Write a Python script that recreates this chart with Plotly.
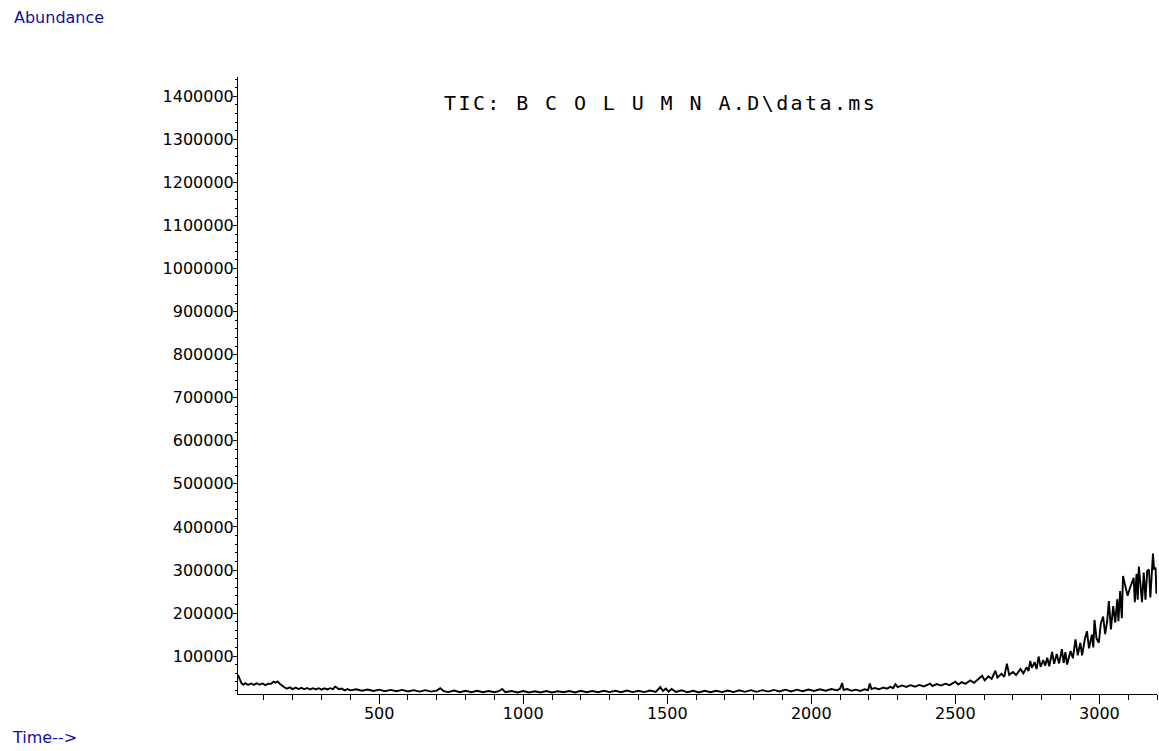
import plotly.graph_objects as go

# Total ion chromatogram, read in three stretches of retention time
time_early = [10, 13, 17, 22, 28, 35, 45, 55, 65, 75, 85, 95, 105, 115, 125, 133, 140, 148,
              156, 164, 172, 180, 190, 200, 210, 220, 230, 240, 250, 260, 270, 280, 290, 300,
              310, 320, 330, 340, 347, 353, 360, 370, 380, 390, 400]
abund_early = [56000, 50000, 43000, 37000, 33500, 37000, 33000, 36500, 33000, 37000, 33500,
               36500, 32500, 36000, 35500, 40500, 38500, 41000, 35000, 30500, 27000, 24500,
               27500, 23500, 27000, 23500, 26500, 23000, 26000, 22500, 25500, 22500, 25500,
               22000, 25000, 22500, 25500, 23500, 29000, 27000, 23000, 24500, 20500, 23500,
               20500]

time_mid = [420, 440, 460, 480, 500, 520, 540, 560, 580, 600, 620, 640, 660, 680, 700, 712,
            724, 740, 760, 780, 800, 820, 840, 860, 880, 900, 915, 927, 938, 960, 980, 1000,
            1020, 1040, 1060, 1080, 1100, 1120, 1140, 1160, 1180, 1200, 1220, 1240, 1260,
            1280, 1300, 1320, 1340, 1360, 1380, 1400, 1420, 1440, 1460, 1476, 1485, 1495,
            1505, 1515, 1530, 1550, 1570, 1590, 1610, 1630, 1650, 1670, 1690, 1710, 1730,
            1750, 1770, 1790, 1810, 1830, 1850, 1870, 1890, 1910, 1930, 1950, 1970, 1990,
            2010, 2030, 2050, 2070, 2090]
abund_mid = [23000, 19500, 22500, 19000, 22000, 18500, 21500, 18500, 21500, 18000, 21000,
             17500, 21000, 17500, 20000, 25500, 18500, 16500, 20000, 16000, 19500, 16000,
             19500, 16000, 19000, 16000, 18500, 23500, 16000, 19000, 15500, 19000, 15500,
             18500, 15500, 19000, 15500, 18500, 16000, 19000, 15500, 19500, 16000, 19000,
             16000, 19500, 16500, 19500, 16000, 20000, 16500, 19500, 16500, 20000, 17000,
             28000, 19000, 24500, 17500, 23500, 17000, 20500, 16000, 19500, 15500, 19500,
             16000, 19500, 16500, 20000, 16500, 20500, 17000, 21000, 17000, 21000, 17500,
             21500, 18000, 22000, 18000, 22000, 18500, 22500, 19000, 23000, 19500, 23500,
             20500]

time_late = [2100, 2107, 2112, 2125, 2140, 2155, 2170, 2185, 2197, 2203, 2209, 2220, 2235,
             2250, 2262, 2275, 2284, 2292, 2300, 2315, 2330, 2345, 2360, 2375, 2390, 2405,
             2413, 2420, 2435, 2450, 2465, 2480, 2492, 2500, 2510, 2522, 2535, 2552, 2565,
             2580, 2593, 2602, 2615, 2626, 2639, 2646, 2660, 2670, 2679, 2687, 2700, 2711,
             2726, 2736, 2748, 2754, 2760, 2766, 2775, 2782, 2789, 2796, 2805, 2812, 2819,
             2826, 2836, 2843, 2852, 2860, 2870, 2876, 2882, 2888, 2900, 2908, 2917, 2925,
             2934, 2940, 2950, 2957, 2964, 2974, 2979, 2983, 2990, 2998, 3005, 3013, 3020,
             3027, 3033, 3040, 3048, 3055, 3062, 3066, 3072, 3078, 3082, 3090, 3098, 3105,
             3112, 3119, 3123, 3129, 3133, 3137, 3143, 3148, 3154, 3160, 3166, 3172, 3177,
             3183, 3186, 3190, 3195, 3198]
abund_late = [24500, 37500, 21500, 23500, 19500, 22000, 19000, 23000, 21000, 36500, 23500,
              26000, 23000, 27000, 24500, 28500, 25500, 35000, 28000, 32000, 28500, 32500,
              29000, 33000, 29500, 34000, 36000, 30500, 35000, 31500, 36000, 32500, 38500,
              40500, 34000, 39500, 35500, 43500, 38000, 47000, 54500, 43500, 53000, 47000,
              66000, 50500, 59000, 52000, 82500, 56500, 63000, 56000, 70000, 60000, 74000,
              65000, 89000, 72500, 86000, 70000, 99000, 75000, 91000, 78000, 96000, 76500,
              110000, 82000, 105000, 83000, 116000, 84000, 109000, 80500, 112000, 95000,
              139000, 102000, 131000, 101500, 141000, 158000, 118000, 150000, 120000, 184000,
              141000, 131000, 176000, 192000, 151000, 181000, 228000, 162000, 216000, 178000,
              232000, 181000, 251000, 188000, 286000, 263000, 240000, 256000, 271000, 282000,
              225000, 291000, 231000, 308000, 263000, 225000, 294000, 231000, 298000, 301000,
              236000, 321000, 338000, 301000, 306000, 245000]

times = time_early + time_mid + time_late
abundance = abund_early + abund_mid + abund_late

title_text = "TIC: B C O L U M N A.D\\data.ms"
y_label = "Abundance"
x_label = "Time-->"

fig = go.Figure(
    go.Scatter(x=times, y=abundance, mode="lines",
               line=dict(color="black", width=1.9), hoverinfo="skip")
)

tick_font = dict(family="DejaVu Sans", size=16, color="black")
label_font = dict(family="DejaVu Sans", size=16, color="#10109a")

fig.update_layout(
    width=1159, height=751,
    margin=dict(l=238, r=2, t=77, b=57),
    paper_bgcolor="white", plot_bgcolor="white",
    showlegend=False,
    xaxis=dict(
        range=[10, 3200], tick0=0, dtick=500, tickformat="d",
        ticks="outside", ticklen=9, tickwidth=1, tickcolor="black",
        ticklabelstandoff=-4,
        showline=True, linecolor="black", linewidth=1,
        showgrid=False, zeroline=False, tickfont=tick_font,
        minor=dict(dtick=100, tick0=0, ticks="outside", ticklen=5,
                   tickwidth=1, tickcolor="black", showgrid=False),
    ),
    yaxis=dict(
        range=[12000, 1445000], tick0=0, dtick=100000, tickformat="d",
        ticks="outside", ticklen=4, tickwidth=1, tickcolor="black",
        ticklabelstandoff=-4,
        showline=True, linecolor="black", linewidth=1,
        showgrid=False, zeroline=False, tickfont=tick_font,
        minor=dict(dtick=20000, tick0=0, ticks="outside", ticklen=2,
                   tickwidth=1, tickcolor="black", showgrid=False),
    ),
    annotations=[
        dict(text=title_text, xref="paper", yref="paper", x=0.4592, y=0.958,
             xanchor="center", yanchor="middle", showarrow=False,
             font=dict(family="DejaVu Sans Mono", size=20, color="black")),
        dict(text=y_label, xref="paper", yref="paper", x=-0.2459, y=1.097,
             xanchor="left", yanchor="middle", showarrow=False, font=label_font),
        dict(text=x_label, xref="paper", yref="paper", x=-0.2481, y=-0.0713,
             xanchor="left", yanchor="middle", showarrow=False, font=label_font),
    ],
)

# Widen the spacing of the monospaced chromatogram title
spacing_js = """
document.querySelectorAll('.annotation-text').forEach(function (el) {
  if (el.textContent.indexOf('TIC:') === 0) {
    el.style.letterSpacing = '2.4px';
  }
});
"""

fig.write_html("out.html", post_script=spacing_js)
